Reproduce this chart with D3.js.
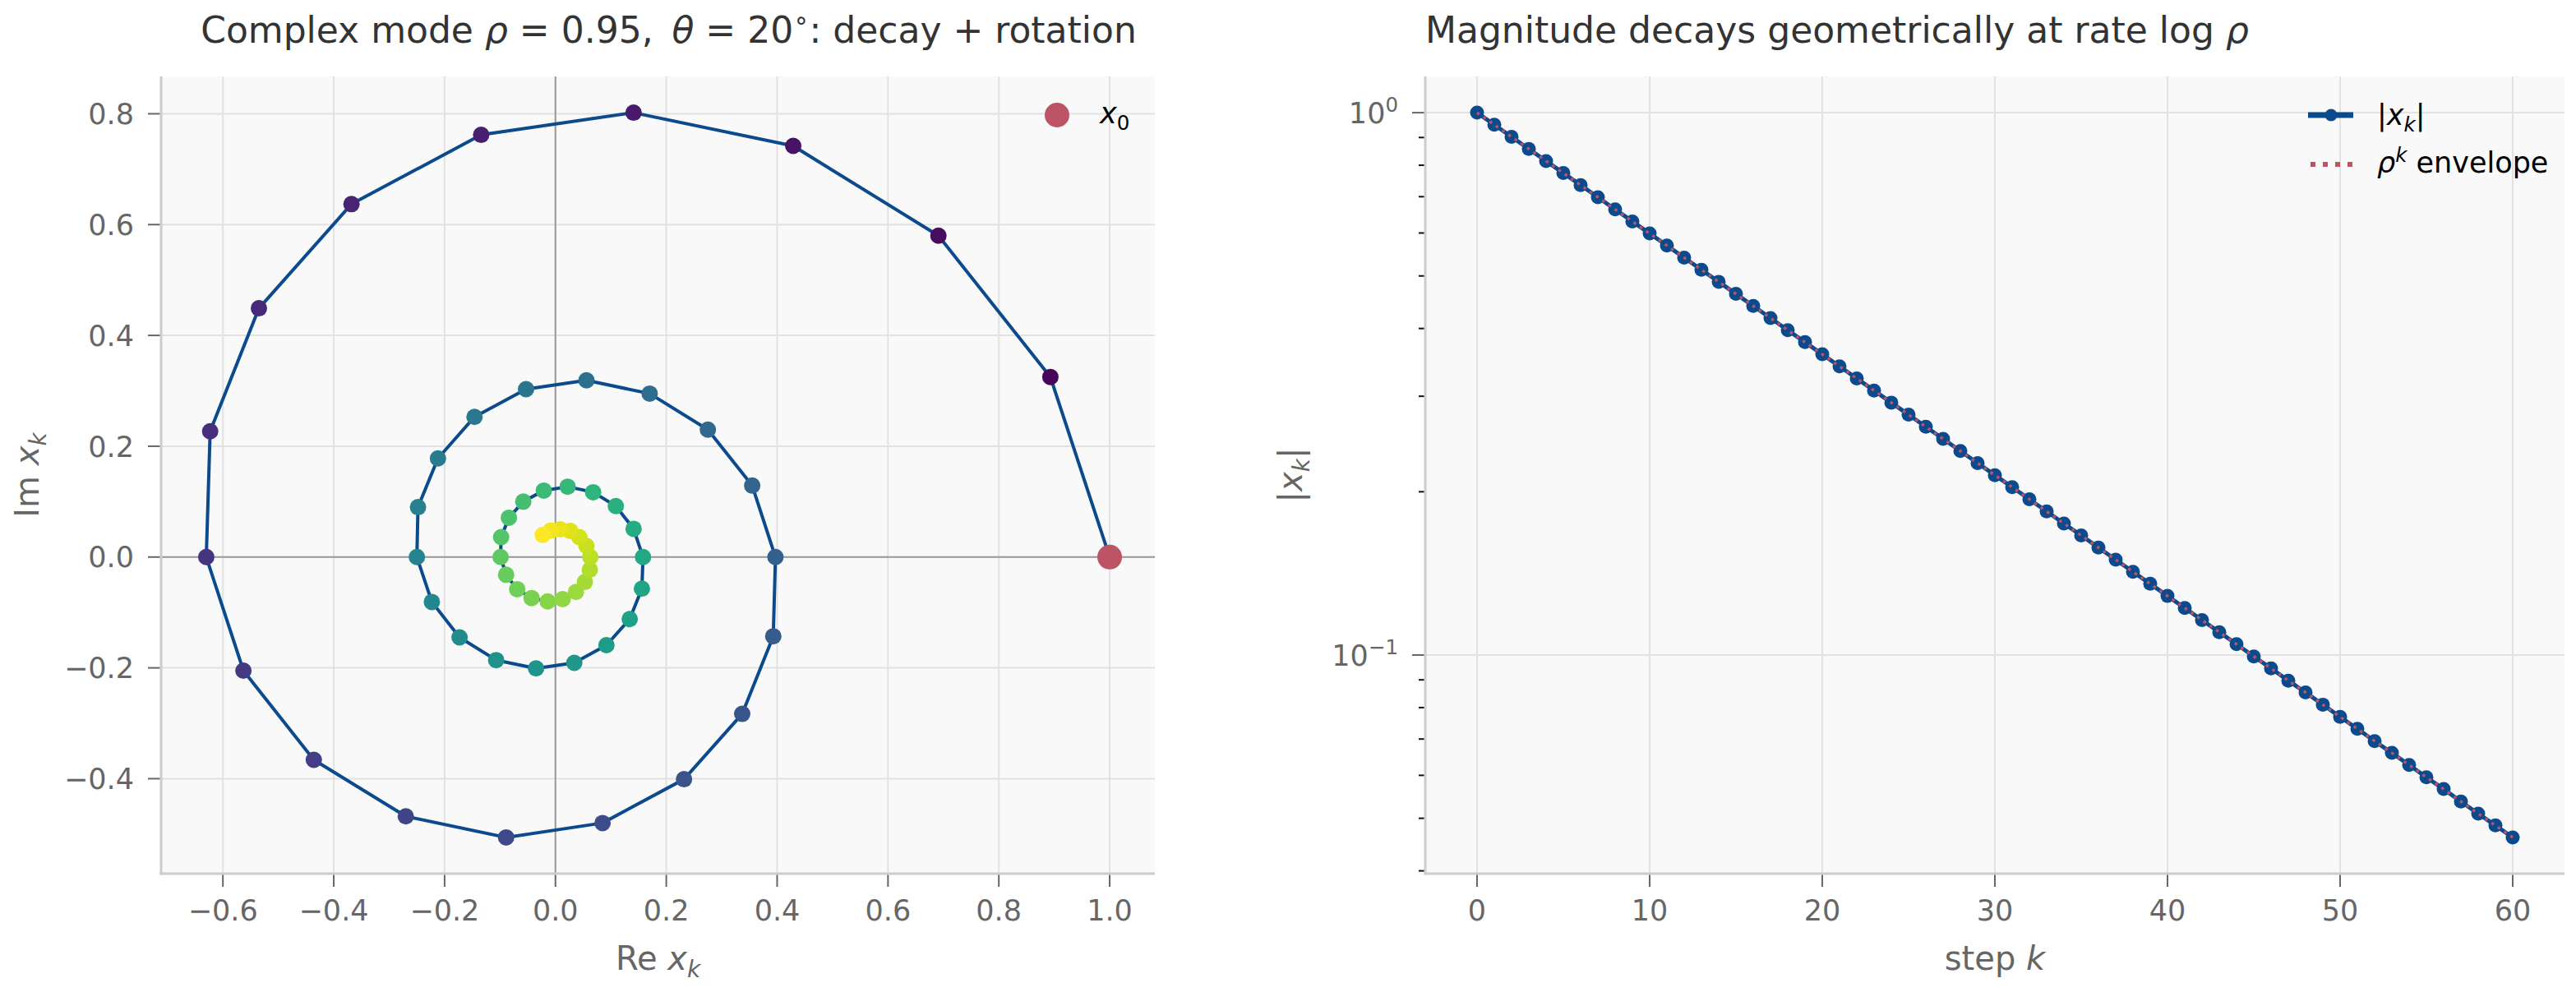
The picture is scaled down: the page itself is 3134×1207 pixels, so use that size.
<!DOCTYPE html>
<html>
<head>
<meta charset="utf-8">
<script src="https://cdn.jsdelivr.net/npm/d3@7"></script>
<style>
  html, body { margin: 0; padding: 0; background: #fff; }
  svg { display: block; font-family: "DejaVu Sans", sans-serif; }
</style>
</head>
<body>
<svg id="chart" width="3134" height="1207"></svg>
<script>
// step index k
const steps = [0,1,2,3,4,5,6,7,8,9,10,11,12,13,14,15,16,17,18,19,20,
  21,22,23,24,25,26,27,28,29,30,31,32,33,34,35,36,37,38,39,40,
  41,42,43,44,45,46,47,48,49,50,51,52,53,54,55,56,57,58,59,60];

// Re x_k
const reX = [1.000,0.893,0.691,0.429,0.141,-0.134,-0.368,-0.535,-0.623,-0.630,
  -0.563,-0.436,-0.270,-0.089,0.085,0.232,0.337,0.393,0.397,0.355,
  0.275,0.170,0.056,-0.053,-0.146,-0.212,-0.248,-0.250,-0.223,-0.173,
  -0.107,-0.035,0.034,0.092,0.134,0.156,0.158,0.141,0.109,0.068,
  0.022,-0.021,-0.058,-0.084,-0.098,-0.099,-0.089,-0.069,-0.043,-0.014,
  0.013,0.037,0.053,0.062,0.063,0.056,0.043,0.027,0.009,-0.008,-0.023];

// Im x_k
const imX = [0.000,0.325,0.580,0.742,0.802,0.762,0.637,0.449,0.227,0.000,
  -0.205,-0.366,-0.468,-0.506,-0.480,-0.401,-0.283,-0.143,0.000,0.129,
  0.230,0.295,0.319,0.303,0.253,0.178,0.090,0.000,-0.081,-0.145,
  -0.186,-0.201,-0.191,-0.159,-0.112,-0.057,0.000,0.051,0.092,0.117,
  0.127,0.120,0.100,0.071,0.036,0.000,-0.032,-0.058,-0.074,-0.080,
  -0.076,-0.063,-0.045,-0.023,0.000,0.020,0.036,0.047,0.050,0.048,0.040];

// |x_k| (right panel, log scale)
const magnitude = [1.0000,0.9500,0.9025,0.8574,0.8145,0.7738,0.7351,0.6983,0.6634,0.6302,
  0.5987,0.5688,0.5404,0.5133,0.4877,0.4633,0.4401,0.4181,0.3972,0.3774,
  0.3585,0.3406,0.3235,0.3074,0.2920,0.2774,0.2635,0.2503,0.2378,0.2259,
  0.2146,0.2039,0.1937,0.1840,0.1748,0.1661,0.1578,0.1499,0.1424,0.1353,
  0.1285,0.1221,0.1160,0.1102,0.1047,0.0994,0.0945,0.0897,0.0853,0.0810,
  0.0769,0.0731,0.0694,0.0660,0.0627,0.0595,0.0566,0.0537,0.0510,0.0485,0.0461];

// rho^k envelope
const envelope = [1.0000,0.9500,0.9025,0.8574,0.8145,0.7738,0.7351,0.6983,0.6634,0.6302,
  0.5987,0.5688,0.5404,0.5133,0.4877,0.4633,0.4401,0.4181,0.3972,0.3774,
  0.3585,0.3406,0.3235,0.3074,0.2920,0.2774,0.2635,0.2503,0.2378,0.2259,
  0.2146,0.2039,0.1937,0.1840,0.1748,0.1661,0.1578,0.1499,0.1424,0.1353,
  0.1285,0.1221,0.1160,0.1102,0.1047,0.0994,0.0945,0.0897,0.0853,0.0810,
  0.0769,0.0731,0.0694,0.0660,0.0627,0.0595,0.0566,0.0537,0.0510,0.0485,0.0461];

const leftXTicks = [-0.6,-0.4,-0.2,0.0,0.2,0.4,0.6,0.8,1.0];
const leftYTicks = [-0.4,-0.2,0.0,0.2,0.4,0.6,0.8];
const rightXTicks = [0,10,20,30,40,50,60];
const rightYTicks = [1, 0.1];
const rightYMinor = [0.9,0.8,0.7,0.6,0.5,0.4,0.3,0.2,0.09,0.08,0.07,0.06,0.05,0.04];

const BLUE = '#0b4a8c';
const RED = '#bc5466';
const svg = d3.select('#chart');
const fmt = (v) => (v < 0 ? '\u2212' : '') + Math.abs(v).toFixed(1);

// write mathtext-like pieces as tspans
function mathText(sel, parts, size) {
  let shift = 0;
  parts.forEach((p) => {
    const ts = sel.append('tspan').text(p.t);
    if (p.i) ts.style('font-style', 'italic');
    let target = 0;
    if (p.sub) { target = size * 0.22; ts.attr('font-size', size * 0.7); }
    if (p.sup) { target = -size * 0.38; ts.attr('font-size', size * 0.7); }
    if (target !== shift) { ts.attr('dy', target - shift); shift = target; }
  });
  return sel;
}

function padded(ext, frac) {
  const span = ext[1] - ext[0];
  return [ext[0] - span * frac, ext[1] + span * frac];
}

const box = { top: 93, bottom: 1063 };
const L = { left: 196, right: 1405 };
const R = { left: 1734, right: 3120 };

function frame(g, x0, x1) {
  g.append('rect')
    .attr('x', x0).attr('y', box.top)
    .attr('width', x1 - x0).attr('height', box.bottom - box.top)
    .attr('fill', '#f9f9f9');
}

function spines(g, x0, x1) {
  g.append('line').attr('x1', x0).attr('x2', x0).attr('y1', box.top).attr('y2', box.bottom + 1.5)
    .attr('stroke', '#cccccc').attr('stroke-width', 3);
  g.append('line').attr('x1', x0 - 1.5).attr('x2', x1).attr('y1', box.bottom).attr('y2', box.bottom)
    .attr('stroke', '#cccccc').attr('stroke-width', 3);
}

// ---------- left panel ----------
const gl = svg.append('g');
frame(gl, L.left, L.right);

const xL = d3.scaleLinear().domain(padded(d3.extent(reX), 0.05)).range([L.left, L.right]);
const yL = d3.scaleLinear().domain(padded(d3.extent(imX), 0.05)).range([box.bottom, box.top]);

gl.selectAll('.gx').data(leftXTicks).join('line')
  .attr('x1', (d) => xL(d)).attr('x2', (d) => xL(d))
  .attr('y1', box.top).attr('y2', box.bottom)
  .attr('stroke', '#e2e2e2').attr('stroke-width', 2);
gl.selectAll('.gy').data(leftYTicks).join('line')
  .attr('y1', (d) => yL(d)).attr('y2', (d) => yL(d))
  .attr('x1', L.left).attr('x2', L.right)
  .attr('stroke', '#e2e2e2').attr('stroke-width', 2);

// zero axes
gl.append('line').attr('x1', xL(0)).attr('x2', xL(0)).attr('y1', box.top).attr('y2', box.bottom)
  .attr('stroke', '#9a9a9a').attr('stroke-width', 2);
gl.append('line').attr('y1', yL(0)).attr('y2', yL(0)).attr('x1', L.left).attr('x2', L.right)
  .attr('stroke', '#9a9a9a').attr('stroke-width', 2);

const pts = steps.map((k, i) => ({ k, re: reX[i], im: imX[i] }));

gl.append('path')
  .datum(pts)
  .attr('fill', 'none')
  .attr('stroke', BLUE)
  .attr('stroke-width', 4)
  .attr('stroke-linejoin', 'round')
  .attr('d', d3.line().x((d) => xL(d.re)).y((d) => yL(d.im)));

gl.selectAll('.pt').data(pts).join('circle')
  .attr('cx', (d) => xL(d.re)).attr('cy', (d) => yL(d.im))
  .attr('r', 10)
  .attr('fill', (d) => d3.interpolateViridis(d.k / 60));

gl.append('circle')
  .attr('cx', xL(reX[0])).attr('cy', yL(imX[0]))
  .attr('r', 15).attr('fill', RED);

spines(gl, L.left, L.right);

gl.selectAll('.tx').data(leftXTicks).join('line')
  .attr('x1', (d) => xL(d)).attr('x2', (d) => xL(d))
  .attr('y1', box.bottom + 1.5).attr('y2', box.bottom + 16)
  .attr('stroke', '#666').attr('stroke-width', 2);
gl.selectAll('.txl').data(leftXTicks).join('text')
  .attr('x', (d) => xL(d)).attr('y', box.bottom + 57)
  .attr('text-anchor', 'middle').attr('font-size', 35).attr('fill', '#666')
  .text(fmt);

gl.selectAll('.ty').data(leftYTicks).join('line')
  .attr('y1', (d) => yL(d)).attr('y2', (d) => yL(d))
  .attr('x1', L.left - 1.5).attr('x2', L.left - 16)
  .attr('stroke', '#666').attr('stroke-width', 2);
gl.selectAll('.tyl').data(leftYTicks).join('text')
  .attr('x', L.left - 33).attr('y', (d) => yL(d)).attr('dy', '0.36em')
  .attr('text-anchor', 'end').attr('font-size', 35).attr('fill', '#666')
  .text(fmt);

// legend
gl.append('circle').attr('cx', 1286).attr('cy', 140).attr('r', 15).attr('fill', RED);
mathText(gl.append('text').attr('x', 1338).attr('y', 150).attr('font-size', 35).attr('fill', '#000'),
  [{ t: 'x', i: true }, { t: '0', sub: true }], 35);

// labels
mathText(gl.append('text').attr('x', (L.left + L.right) / 2).attr('y', 1180)
  .attr('text-anchor', 'middle').attr('font-size', 40).attr('fill', '#666'),
  [{ t: 'Re ' }, { t: 'x', i: true }, { t: 'k', i: true, sub: true }], 40);
mathText(gl.append('text')
  .attr('transform', `translate(47,${(box.top + box.bottom) / 2}) rotate(-90)`)
  .attr('text-anchor', 'middle').attr('font-size', 40).attr('fill', '#666'),
  [{ t: 'Im ' }, { t: 'x', i: true }, { t: 'k', i: true, sub: true }], 40);
mathText(gl.append('text').attr('x', (L.left + L.right) / 2 + 13).attr('y', 52)
  .attr('text-anchor', 'middle').attr('font-size', 44).attr('fill', '#333')
  .style('white-space', 'pre'),
  [{ t: 'Complex mode ' }, { t: '\u03c1', i: true }, { t: ' = 0.95,\u2009 ' },
   { t: '\u03b8', i: true }, { t: ' = 20' }, { t: '\u2218', sup: true }, { t: ': decay + rotation' }], 44);

// ---------- right panel ----------
const gr = svg.append('g');
frame(gr, R.left, R.right);

const xR = d3.scaleLinear().domain(padded(d3.extent(steps), 0.05)).range([R.left, R.right]);
const logExt = padded(d3.extent(magnitude).map(Math.log10), 0.05);
const yR = d3.scaleLog().domain(logExt.map((v) => Math.pow(10, v))).range([box.bottom, box.top]);

gr.selectAll('.gx').data(rightXTicks).join('line')
  .attr('x1', (d) => xR(d)).attr('x2', (d) => xR(d))
  .attr('y1', box.top).attr('y2', box.bottom)
  .attr('stroke', '#e2e2e2').attr('stroke-width', 2);
gr.selectAll('.gy').data(rightYTicks).join('line')
  .attr('y1', (d) => yR(d)).attr('y2', (d) => yR(d))
  .attr('x1', R.left).attr('x2', R.right)
  .attr('stroke', '#e2e2e2').attr('stroke-width', 2);

const mags = steps.map((k, i) => ({ k, v: magnitude[i] }));
const env = steps.map((k, i) => ({ k, v: envelope[i] }));
const lineR = d3.line().x((d) => xR(d.k)).y((d) => yR(d.v));

gr.append('path').datum(mags)
  .attr('fill', 'none').attr('stroke', BLUE).attr('stroke-width', 5)
  .attr('d', lineR);
gr.selectAll('.mk').data(mags).join('circle')
  .attr('cx', (d) => xR(d.k)).attr('cy', (d) => yR(d.v))
  .attr('r', 8.5).attr('fill', BLUE);
gr.append('path').datum(env)
  .attr('fill', 'none').attr('stroke', RED).attr('stroke-width', 3.5)
  .attr('stroke-dasharray', '3.5,5.8')
  .attr('d', lineR);

spines(gr, R.left, R.right);

gr.selectAll('.tx').data(rightXTicks).join('line')
  .attr('x1', (d) => xR(d)).attr('x2', (d) => xR(d))
  .attr('y1', box.bottom + 1.5).attr('y2', box.bottom + 16)
  .attr('stroke', '#666').attr('stroke-width', 2);
gr.selectAll('.txl').data(rightXTicks).join('text')
  .attr('x', (d) => xR(d)).attr('y', box.bottom + 57)
  .attr('text-anchor', 'middle').attr('font-size', 35).attr('fill', '#666')
  .text((d) => d);

gr.selectAll('.ty').data(rightYTicks).join('line')
  .attr('y1', (d) => yR(d)).attr('y2', (d) => yR(d))
  .attr('x1', R.left - 1.5).attr('x2', R.left - 16)
  .attr('stroke', '#666').attr('stroke-width', 2);
gr.selectAll('.tym').data(rightYMinor).join('line')
  .attr('y1', (d) => yR(d)).attr('y2', (d) => yR(d))
  .attr('x1', R.left - 1.5).attr('x2', R.left - 8)
  .attr('stroke', '#111').attr('stroke-width', 2);
gr.selectAll('.tyl').data(rightYTicks).join('text')
  .attr('x', R.left - 33).attr('y', (d) => yR(d)).attr('dy', '0.36em')
  .attr('text-anchor', 'end').attr('font-size', 35).attr('fill', '#666')
  .each(function (d) {
    const e = Math.round(Math.log10(d));
    mathText(d3.select(this), [{ t: '10' }, { t: e < 0 ? '\u2212' + (-e) : String(e), sup: true }], 35);
  });

// legend
gr.append('line').attr('x1', 2808).attr('x2', 2863).attr('y1', 140).attr('y2', 140)
  .attr('stroke', BLUE).attr('stroke-width', 7);
gr.append('circle').attr('cx', 2836).attr('cy', 140).attr('r', 7.5).attr('fill', BLUE);
mathText(gr.append('text').attr('x', 2892).attr('y', 152).attr('font-size', 35).attr('fill', '#000'),
  [{ t: '|' }, { t: 'x', i: true }, { t: 'k', i: true, sub: true }, { t: '|' }], 35);
gr.append('line').attr('x1', 2811).attr('x2', 2863).attr('y1', 200).attr('y2', 200)
  .attr('stroke', RED).attr('stroke-width', 6).attr('stroke-dasharray', '6,9');
mathText(gr.append('text').attr('x', 2892).attr('y', 210).attr('font-size', 35).attr('fill', '#000'),
  [{ t: '\u03c1', i: true }, { t: 'k', i: true, sup: true }, { t: ' envelope' }], 35);

// labels
mathText(gr.append('text').attr('x', (R.left + R.right) / 2).attr('y', 1180)
  .attr('text-anchor', 'middle').attr('font-size', 40).attr('fill', '#666'),
  [{ t: 'step ' }, { t: 'k', i: true }], 40);
mathText(gr.append('text')
  .attr('transform', `translate(1584,${(box.top + box.bottom) / 2}) rotate(-90)`)
  .attr('text-anchor', 'middle').attr('font-size', 40).attr('fill', '#666'),
  [{ t: '|' }, { t: 'x', i: true }, { t: 'k', i: true, sub: true }, { t: '|' }], 40);
mathText(gr.append('text').attr('x', R.left).attr('y', 52)
  .attr('text-anchor', 'start').attr('font-size', 44).attr('fill', '#333'),
  [{ t: 'Magnitude decays geometrically at rate log ' }, { t: '\u03c1', i: true }], 44);
</script>
</body>
</html>
